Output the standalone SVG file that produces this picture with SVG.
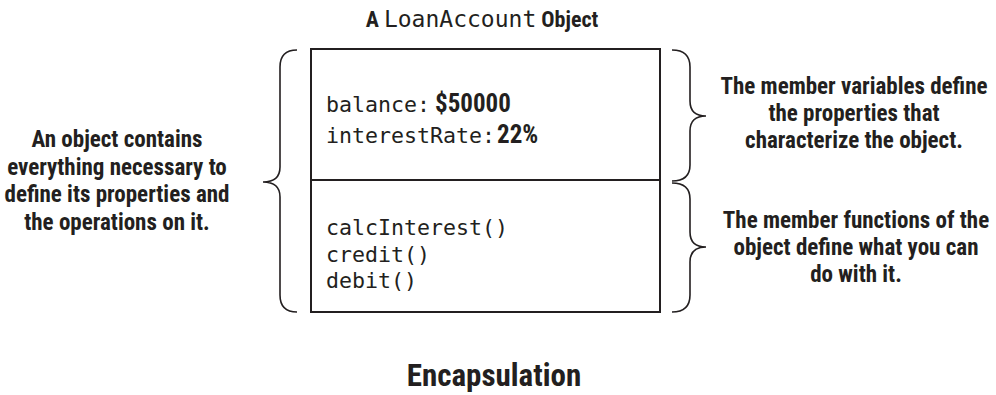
<svg xmlns="http://www.w3.org/2000/svg" width="996" height="395" viewBox="0 0 996 395">
<style>
.cond{font-family:"Liberation Sans Narrow","Roboto Condensed","Liberation Sans",sans-serif;font-weight:bold;fill:#231f20}
.mono{font-family:"DejaVu Sans Mono","Liberation Mono",monospace;fill:#231f20;font-size:21.6px}
.box{fill:none;stroke:#231f20;stroke-width:2}
.brace{fill:none;stroke:#231f20;stroke-width:1.6}
</style>
<rect width="996" height="395" fill="#fff"/>
<text x="482" y="27" text-anchor="middle" font-size="22"><tspan class="cond">A </tspan><tspan class="mono" style="font-size:23px">LoanAccount</tspan><tspan class="cond"> Object</tspan></text>
<g id="object">
<rect class="box" x="311" y="49" width="349" height="263"/>
<line class="box" x1="311" y1="180" x2="660" y2="180"/>
<text class="mono" x="326" y="112">balance:</text>
<text class="cond" x="435" y="112" font-size="25">$50000</text>
<text class="mono" x="326" y="143">interestRate:</text>
<text class="cond" x="497" y="143" font-size="25">22%</text>
<text class="mono" x="326" y="235">calcInterest()</text>
<text class="mono" x="326" y="262">credit()</text>
<text class="mono" x="326" y="288">debit()</text>
</g>
<g id="connectors">
<path class="brace" d="M297,50 Q280,50 280,67 L280,167 Q280,182 263,182 Q280,182 280,197 L280,295 Q280,312 297,312"/>
<path class="brace" d="M672,50 Q690,50 690,67 L690,101 Q690,116 706,116 Q690,116 690,131 L690,165 Q690,181 672,181"/>
<path class="brace" d="M672,183 Q690,183 690,199 L690,232 Q690,247 706,247 Q690,247 690,262 L690,295 Q690,312 672,312"/>
</g>
<g id="left-note">
<text class="cond" text-anchor="middle" font-size="23"><tspan x="117" y="147">An object contains</tspan><tspan x="117" y="175">everything necessary to</tspan><tspan x="117" y="202">define its properties and</tspan><tspan x="117" y="230">the operations on it.</tspan></text>
</g>
<g id="vars-note">
<text class="cond" text-anchor="middle" font-size="23"><tspan x="854" y="94">The member variables define</tspan><tspan x="854" y="121">the properties that</tspan><tspan x="854" y="148">characterize the object.</tspan></text>
</g>
<g id="funcs-note">
<text class="cond" text-anchor="middle" font-size="23"><tspan x="856" y="228">The member functions of the</tspan><tspan x="856" y="255">object define what you can</tspan><tspan x="856" y="282">do with it.</tspan></text>
</g>
<text id="caption" class="cond" x="494" y="386" text-anchor="middle" font-size="31">Encapsulation</text>
</svg>
